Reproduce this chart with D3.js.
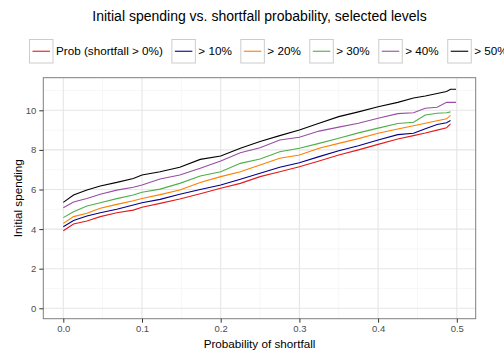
<!DOCTYPE html>
<html><head><meta charset="utf-8">
<script src="https://cdn.jsdelivr.net/npm/d3@7"></script>
<style>body{margin:0;background:#fff;} svg{display:block;font-family:"Liberation Sans",Arial,sans-serif;}</style>
</head><body>
<svg id="c" width="504" height="358"></svg>
<script>
const title = "Initial spending vs. shortfall probability, selected levels";
const seriesNames = ["Prob (shortfall > 0%)", "> 10%", "> 20%", "> 30%", "> 40%", "> 50%"];
const seriesColors = ["#E41A1C", "#00008B", "#FF7F00", "#4DAF4A", "#984EA3", "#000000"];
const prob = [0, 0.013, 0.03, 0.047, 0.068, 0.089, 0.1, 0.123, 0.148, 0.174, 0.2, 0.225, 0.25, 0.275, 0.3, 0.325, 0.35, 0.375, 0.4, 0.425, 0.445, 0.46, 0.475, 0.487, 0.492, 0.499];
const s0  = [3.92, 4.26, 4.41, 4.63, 4.83, 4.96, 5.1, 5.3, 5.52, 5.79, 6.06, 6.31, 6.65, 6.9, 7.15, 7.44, 7.74, 8.0, 8.28, 8.55, 8.72, 8.85, 9.0, 9.12, 9.31, null];
const s10 = [4.12, 4.43, 4.66, 4.83, 5.0, 5.22, 5.33, 5.5, 5.76, 6.0, 6.23, 6.52, 6.82, 7.12, 7.35, 7.66, 7.96, 8.21, 8.5, 8.77, 8.84, 9.07, 9.28, 9.37, 9.48, null];
const s20 = [4.29, 4.63, 4.8, 5.05, 5.25, 5.43, 5.55, 5.74, 5.97, 6.35, 6.65, 6.9, 7.24, 7.58, 7.74, 8.08, 8.33, 8.57, 8.84, 9.06, 9.22, 9.35, 9.47, 9.57, 9.74, null];
const s30 = [4.58, 4.88, 5.17, 5.33, 5.54, 5.72, 5.86, 6.02, 6.31, 6.68, 6.9, 7.32, 7.54, 7.91, 8.08, 8.33, 8.59, 8.86, 9.1, 9.33, 9.4, 9.76, 9.85, 9.88, 9.92, null];
const s40 = [5.08, 5.37, 5.55, 5.76, 5.97, 6.11, 6.23, 6.53, 6.73, 7.07, 7.44, 7.86, 8.11, 8.5, 8.64, 8.95, 9.15, 9.35, 9.6, 9.83, 9.88, 10.1, 10.15, 10.4, 10.4, 10.4];
const s50 = [5.35, 5.72, 5.97, 6.18, 6.36, 6.56, 6.73, 6.9, 7.12, 7.52, 7.69, 8.08, 8.42, 8.72, 9.0, 9.35, 9.68, 9.92, 10.18, 10.4, 10.62, 10.72, 10.85, 10.95, 11.06, 11.06];
const seriesValues = [s0, s10, s20, s30, s40, s50];
const xTicks = [0, 0.1, 0.2, 0.3, 0.4, 0.5];
const yTicks = [0, 2, 4, 6, 8, 10];
const xMinor = [0.05, 0.15, 0.25, 0.35, 0.45];
const yMinor = [1, 3, 5, 7, 9, 11];

const svg = d3.select("#c");
const panel = {l: 43.3, r: 475.7, t: 77.7, b: 318.7};
const x = d3.scaleLinear().domain([0, 0.5]).range([63.3, 456.8]);
const y = d3.scaleLinear().domain([0, 10]).range([308.3, 110.3]);

// panel background
svg.append("rect").attr("x", panel.l).attr("y", panel.t).attr("width", panel.r - panel.l).attr("height", panel.b - panel.t).attr("fill", "#fff");
const g = svg.append("g");
xMinor.forEach(v => g.append("line").attr("x1", x(v)).attr("x2", x(v)).attr("y1", panel.t).attr("y2", panel.b).attr("stroke", "#f7f7f7").attr("stroke-width", 1));
yMinor.forEach(v => { if (y(v) > panel.t) g.append("line").attr("x1", panel.l).attr("x2", panel.r).attr("y1", y(v)).attr("y2", y(v)).attr("stroke", "#f7f7f7").attr("stroke-width", 1); });
xTicks.forEach(v => g.append("line").attr("x1", x(v)).attr("x2", x(v)).attr("y1", panel.t).attr("y2", panel.b).attr("stroke", "#e5e5e5").attr("stroke-width", 1.1));
yTicks.forEach(v => g.append("line").attr("x1", panel.l).attr("x2", panel.r).attr("y1", y(v)).attr("y2", y(v)).attr("stroke", "#e5e5e5").attr("stroke-width", 1.1));

// lines
const line = d3.line().defined(d => d[1] != null).x(d => x(d[0])).y(d => y(d[1]));
seriesValues.forEach((vals, i) => {
  svg.append("path").datum(prob.map((p, j) => [p, vals[j]]))
    .attr("d", line).attr("fill", "none").attr("stroke", seriesColors[i]).attr("stroke-width", 1.1);
});

// panel border
svg.append("rect").attr("x", panel.l).attr("y", panel.t).attr("width", panel.r - panel.l).attr("height", panel.b - panel.t).attr("fill", "none").attr("stroke", "#7f7f7f").attr("stroke-width", 1);

// axes
const xAxis = svg.append("g").attr("transform", `translate(0,${panel.b})`)
  .call(d3.axisBottom(x).tickValues(xTicks).tickFormat(d3.format(".1f")).tickSize(4).tickPadding(3));
const yAxis = svg.append("g").attr("transform", `translate(${panel.l},0)`)
  .call(d3.axisLeft(y).tickValues(yTicks).tickFormat(d3.format("d")).tickSize(4).tickPadding(3));
[xAxis, yAxis].forEach(a => {
  a.select(".domain").remove();
  a.selectAll(".tick line").attr("stroke", "#333");
  a.selectAll(".tick text").attr("fill", "#4d4d4d").style("font-size", "9.5px").style("font-family", "Liberation Sans, Arial, sans-serif");
});

// axis titles
const cx = (panel.l + panel.r) / 2;
svg.append("text").attr("x", cx).attr("y", 348).attr("text-anchor", "middle").style("font-size", "11.7px").text("Probability of shortfall");
svg.append("text").attr("transform", `translate(22,${(panel.t + panel.b) / 2}) rotate(-90)`).attr("text-anchor", "middle").style("font-size", "11.7px").text("Initial spending");

// title
svg.append("text").attr("x", cx).attr("y", 21).attr("text-anchor", "middle").style("font-size", "14px").text(title);

// legend
const leg = svg.append("g");
let lx = 29.5;
const ly = 39.5, box = 23.5;
seriesNames.forEach((name, i) => {
  leg.append("rect").attr("x", lx).attr("y", ly).attr("width", box).attr("height", box).attr("fill", "#fff").attr("stroke", "#cccccc").attr("stroke-width", 1);
  leg.append("line").attr("x1", lx + 3).attr("x2", lx + box - 3).attr("y1", ly + box / 2).attr("y2", ly + box / 2).attr("stroke", seriesColors[i]).attr("stroke-width", 1.1);
  const t = leg.append("text").attr("x", lx + box + 3).attr("y", ly + box / 2 + 4.2).style("font-size", "11.7px").text(name);
  lx = lx + box + 3 + t.node().getComputedTextLength() + 9;
});
</script>
</body></html>
